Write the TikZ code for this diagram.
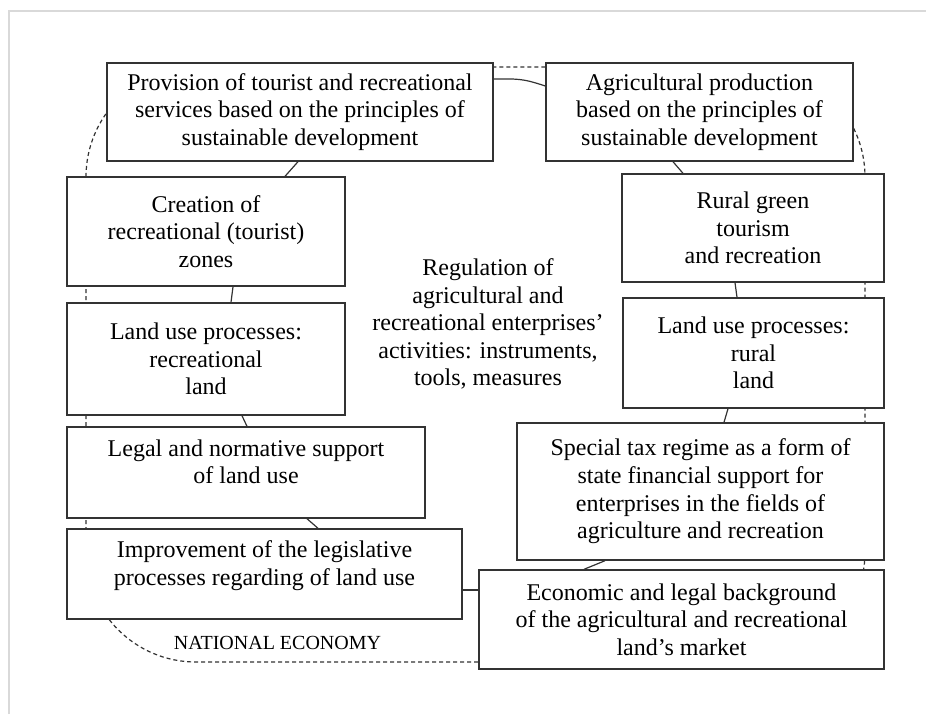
\documentclass[tikz,border=0pt]{standalone}
\usepackage{fontspec}
\setmainfont{Liberation Serif}
\usetikzlibrary{calc}

\newcommand{\liftup}[1]{\raisebox{4pt}[\height][\depth]{\begin{tabular}{@{}c@{}}#1\end{tabular}}}

\tikzset{
  block/.style={draw=black!80, line width=0.7pt, fill=white, align=center,
    inner sep=2pt, font=\fontsize{12}{13.8}\selectfont},
  link/.style={draw=black!80, line width=0.6pt},
}

\begin{document}
\begin{tikzpicture}[x=0.5pt, y=-0.5pt]
    \useasboundingbox (0,0) rectangle (926,714);
    % frame
    \draw[gray!30, line width=1pt] (8.5,714) -- (8.5,10.5) -- (926,10.5);

    % National economy ring
    \draw[black!80, line width=0.6pt, dash pattern=on 2pt off 1.5pt, rounded corners=55pt]
        (86,67) rectangle (865,662);
    \node[font=\fontsize{10}{12}\selectfont] (natec) at (277.5,643) {NATIONAL ECONOMY};

    % Left column
    \node[block, minimum width=193pt, minimum height=49pt] (prov) at (300,112)
        {Provision of tourist and recreational\\services based on the principles of\\sustainable development};
    \node[block, minimum width=139pt, minimum height=54.5pt] (crea) at (206,231.5)
        {Creation of\\recreational (tourist)\\zones};
    \node[block, minimum width=139pt, minimum height=56pt] (recl) at (206,359)
        {Land use processes:\\recreational\\land};
    \node[block, minimum width=179pt, minimum height=45.5pt] (legal) at (246,472.5)
        {\liftup{Legal and normative support\\of land use}};
    \node[block, minimum width=197.5pt, minimum height=45pt] (impr) at (264.5,574)
        {\liftup{Improvement of the legislative\\processes regarding of land use}};

    % Right column
    \node[block, minimum width=153.5pt, minimum height=49pt] (agri) at (699.5,112)
        {Agricultural production\\based on the principles of\\sustainable development};
    \node[block, minimum width=131pt, minimum height=54pt] (rurg) at (753,228)
        {Rural green\\tourism\\and recreation};
    \node[block, minimum width=130.5pt, minimum height=55pt] (rurl) at (753.5,353)
        {Land use processes:\\rural\\land};
    \node[block, minimum width=183.5pt, minimum height=68.5pt] (tax) at (700.5,491.5)
        {Special tax regime as a form of\\state financial support for\\enterprises in the fields of\\agriculture and recreation};
    \node[block, minimum width=202.5pt, minimum height=49.5pt] (econ) at (681.5,619.5)
        {Economic and legal background\\of the agricultural and recreational\\land's market};

    % Centre
    \node[align=center, font=\fontsize{12}{13.8}\selectfont] (regul) at (488,324)
        {Regulation of\\agricultural and\\recreational enterprises'\\activities: instruments,\\tools, measures};

    % Links
    \draw[link] ([yshift=16.5pt]prov.east) .. controls +(12pt,0pt) and +(-12pt,4pt) .. ([yshift=13pt]agri.west);
    \draw[link] ([xshift=-1pt]prov.south) -- ([xshift=39.5pt]crea.north);
    \draw[link] ([xshift=13.5pt]crea.south) -- ([xshift=12.5pt]recl.north);
    \draw[link] ([xshift=18pt]recl.south) -- ([xshift=0.5pt]legal.north);
    \draw[link] ([xshift=30.5pt]legal.south) -- ([xshift=26.75pt]impr.north);
    \draw[link] ($(impr.east)+(0,-8pt)$) -- ($(impr.east -| econ.west)+(0,-8pt)$);
    \draw[link] ([xshift=-13.25pt]agri.south) -- ([xshift=-35pt]rurg.north);
    \draw[link] ([xshift=-9pt]rurg.south) -- ([xshift=-8.25pt]rurl.north);
    \draw[link] ([xshift=-12.75pt]rurl.south) -- ([xshift=11.75pt]tax.north);
    \draw[link] ([xshift=-47.75pt]tax.south) -- ([xshift=-48.75pt]econ.north);
\end{tikzpicture}
\end{document}
